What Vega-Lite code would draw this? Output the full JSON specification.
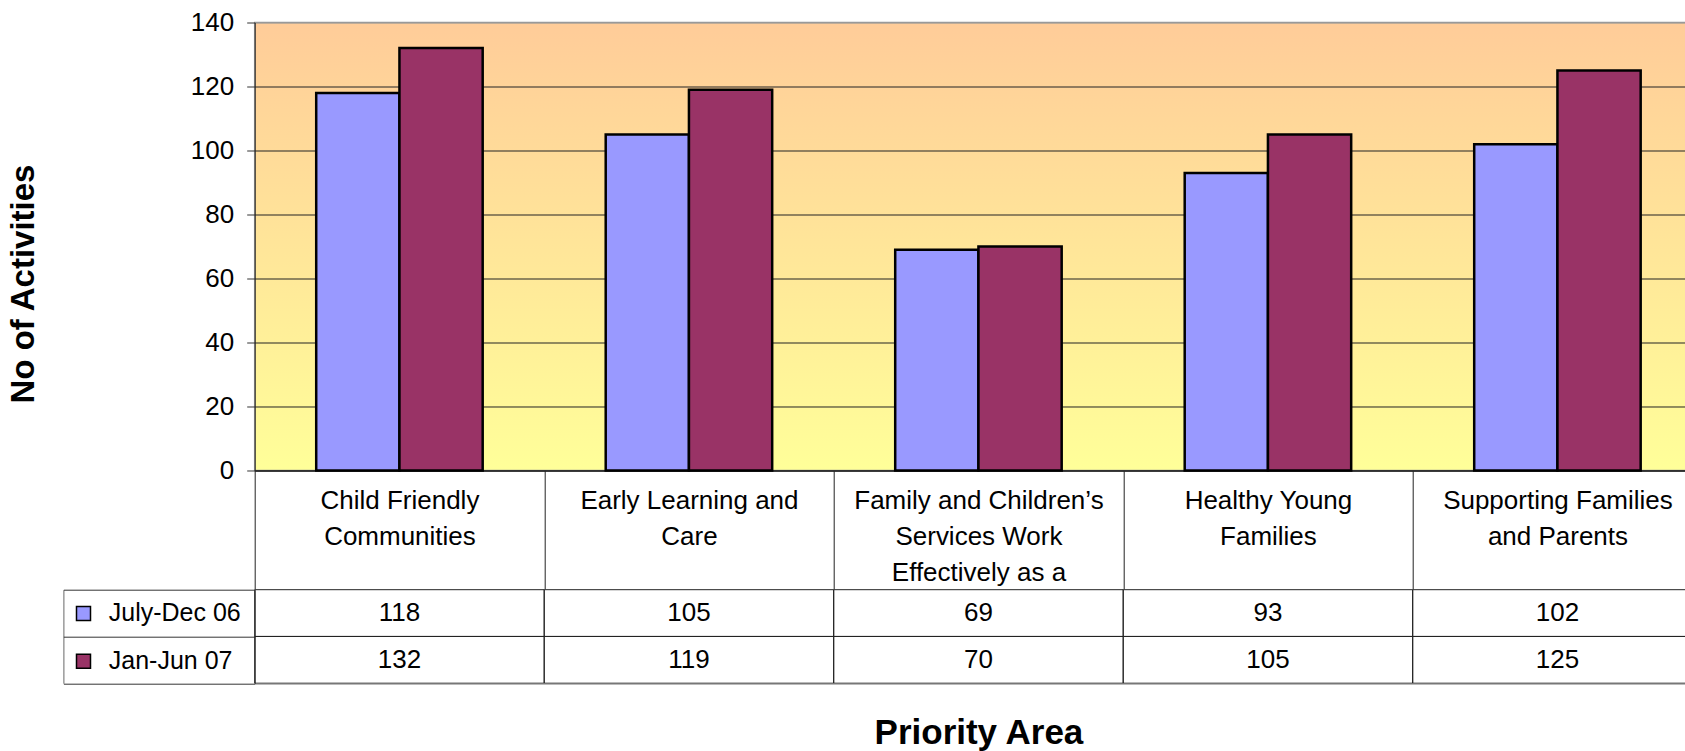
{
  "$schema": "https://vega.github.io/schema/vega-lite/v6.json",
  "background": "white",
  "autosize": {"type": "pad"},
  "padding": {"left": 5.7, "top": 8.5, "right": 0, "bottom": 0},
  "config": {
    "font": "Liberation Sans",
    "view": {"stroke": null},
    "axis": {"labelColor": "black", "titleColor": "black", "labelFont": "Liberation Sans", "titleFont": "Liberation Sans"},
    "legend": {"labelFont": "Liberation Sans"}
  },
  "data": {
    "values": [
      {"area": "Child Friendly|Communities", "period": "July-Dec 06", "value": 118},
      {"area": "Child Friendly|Communities", "period": "Jan-Jun 07", "value": 132},
      {"area": "Early Learning and|Care", "period": "July-Dec 06", "value": 105},
      {"area": "Early Learning and|Care", "period": "Jan-Jun 07", "value": 119},
      {"area": "Family and Children’s|Services Work|Effectively as a", "period": "July-Dec 06", "value": 69},
      {"area": "Family and Children’s|Services Work|Effectively as a", "period": "Jan-Jun 07", "value": 70},
      {"area": "Healthy Young|Families", "period": "July-Dec 06", "value": 93},
      {"area": "Healthy Young|Families", "period": "Jan-Jun 07", "value": 105},
      {"area": "Supporting Families|and Parents", "period": "July-Dec 06", "value": 102},
      {"area": "Supporting Families|and Parents", "period": "Jan-Jun 07", "value": 125}
    ]
  },
  "bounds": "flush",
  "spacing": 118.2,
  "vconcat": [
    {
      "width": 1447.5,
      "height": 448.1,
      "view": {
        "fill": {"gradient": "linear", "x1": 0, "y1": 0, "x2": 0, "y2": 1, "stops": [{"offset": 0, "color": "#FFCC99"}, {"offset": 1, "color": "#FFFF99"}]},
        "stroke": "#999999",
        "strokeWidth": 1.5
      },
      "mark": {"type": "bar", "stroke": "black", "strokeWidth": 2.5},
      "encoding": {
        "x": {
          "field": "area", "type": "nominal", "sort": null,
          "scale": {"paddingInner": 0, "paddingOuter": 0},
          "axis": {
            "title": null, "orient": "bottom", "tickBand": "extent", "tickSize": 118.2, "tickColor": "#222222", "tickWidth": 1,
            "domainColor": "#222222", "domainWidth": 1.5, "labelAngle": 0, "labelFontSize": 26, "labelColor": "black",
            "labelBaseline": "middle", "labelPadding": -87.8, "labelLineHeight": 36, "labelLimit": 320,
            "labelExpr": "split(datum.label, '|')", "grid": false
          }
        },
        "xOffset": {
          "field": "period", "type": "nominal",
          "scale": {"domain": ["July-Dec 06", "Jan-Jun 07"], "paddingInner": 0, "paddingOuter": 0.739}
        },
        "y": {
          "field": "value", "type": "quantitative",
          "scale": {"domain": [0, 140], "nice": false},
          "axis": {
            "values": [0, 20, 40, 60, 80, 100, 120, 140], "grid": true,
            "gridColor": {"condition": {"test": "datum.value == 140", "value": "#999999"}, "value": "#222222"},
            "gridWidth": 1, "tickSize": 8, "tickColor": "#333333", "domainColor": "#222222",
            "labelFontSize": 26, "labelPadding": 13, "labelColor": "black",
            "title": "No of Activities", "titleFontSize": 33, "titleFontWeight": "bold", "titlePadding": 150.3,
            "titleY": 261
          }
        },
        "color": {
          "field": "period", "type": "nominal",
          "scale": {"domain": ["July-Dec 06", "Jan-Jun 07"], "range": ["#9999FF", "#993366"]},
          "legend": {
            "orient": "none", "legendX": -183.7, "legendY": 578.5, "title": null,
            "symbolType": "square", "symbolSize": 196, "symbolStrokeColor": "black", "symbolStrokeWidth": 1.5,
            "labelFontSize": 25, "labelColor": "black", "labelOffset": 12.8, "rowPadding": 21.75, "padding": 0, "labelLimit": 300
          }
        }
      }
    },
    {
      "width": 1447.5,
      "height": 93.5,
      "encoding": {
        "x": {
          "field": "area", "type": "nominal", "sort": null,
          "scale": {"paddingInner": 0, "paddingOuter": 0},
          "axis": {
            "orient": "bottom", "labels": false, "ticks": false, "domain": true, "domainColor": "#777777", "domainWidth": 1.5,
            "title": "Priority Area", "titleFontSize": 35, "titleFontWeight": "bold", "titlePadding": 32
          }
        }
      },
      "layer": [
        {
          "mark": {"type": "rect", "fill": "transparent", "stroke": "#222222", "strokeWidth": 1},
          "encoding": {
            "y": {
              "field": "period", "type": "nominal",
              "scale": {"domain": ["July-Dec 06", "Jan-Jun 07"], "paddingInner": 0, "paddingOuter": 0},
              "axis": {"orient": "left", "title": null, "labels": false, "tickBand": "extent", "tickSize": 191.3, "tickColor": "#333333", "domain": true, "domainColor": "#222222", "grid": false}
            }
          }
        },
        {
          "mark": {"type": "text", "fontSize": 26, "color": "black", "baseline": "middle"},
          "encoding": {
            "y": {
              "field": "period", "type": "nominal",
              "scale": {"domain": ["July-Dec 06", "Jan-Jun 07"], "paddingInner": 0, "paddingOuter": 0},
              "axis": {"orient": "left", "offset": 191.3, "title": null, "labels": false, "ticks": false, "domain": true, "domainColor": "#666666", "grid": false}
            },
            "text": {"field": "value", "type": "quantitative"}
          }
        }
      ],
      "resolve": {"axis": {"y": "independent"}}
    }
  ]
}
